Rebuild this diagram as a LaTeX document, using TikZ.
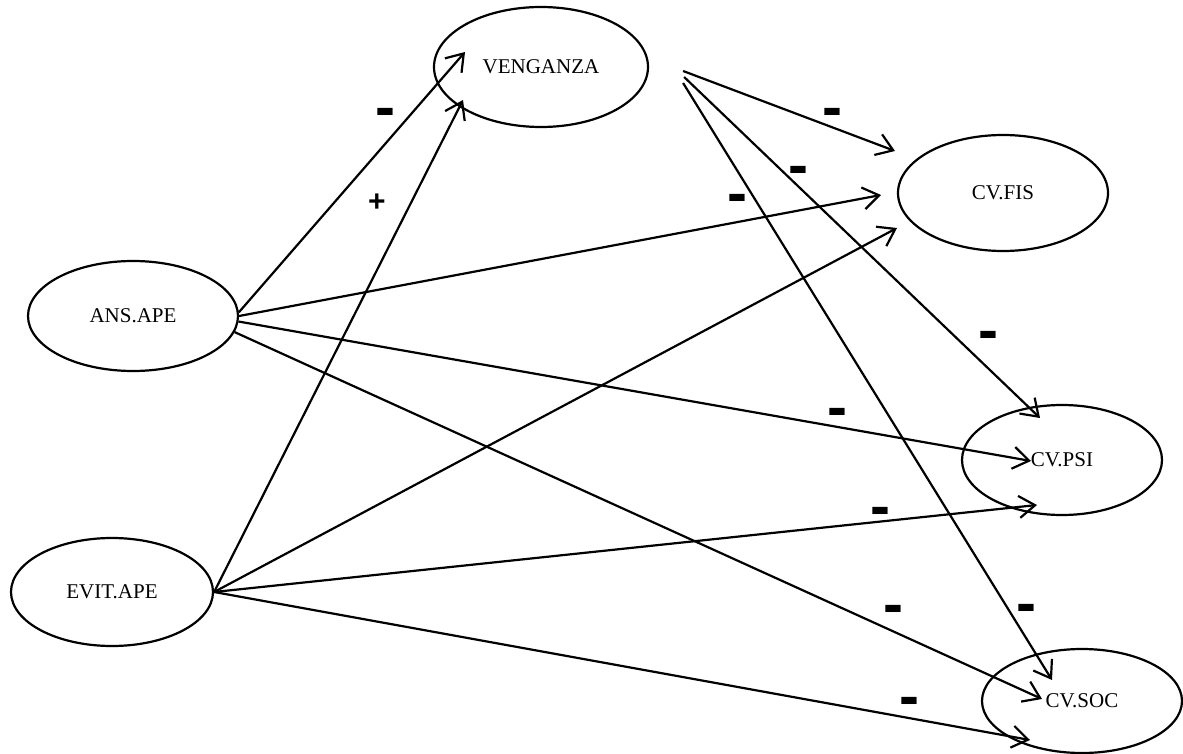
\documentclass[tikz,border=0pt]{standalone}
\usepackage{fontspec}
\setmainfont{Liberation Serif}
\setsansfont{Liberation Sans}
\usetikzlibrary{arrows.meta,shapes.geometric}

\begin{document}
\begin{tikzpicture}[
			x=0.5pt, y=-0.5pt,
			>={Straight Barb[length=8pt,width=11pt]},
			latent/.style={draw, ellipse, line width=1.1pt, inner sep=0pt,
				font={\fontsize{10.5}{12}\selectfont}},
			effect/.style={->, line width=1.1pt},
			sign/.style={inner sep=0pt, yshift=-4pt, font={\fontsize{30}{30}\sffamily\bfseries}},
			plus/.style={inner sep=0pt, font={\fontsize{15}{15}\sffamily\bfseries}}
	]
	\useasboundingbox (0,0) rectangle (1183,754);

	\node[latent, minimum width=107pt, minimum height=60pt] (ven) at (541,67) {VENGANZA};
	\node[latent, minimum width=105pt, minimum height=58pt] (fis) at (1003,193) {CV.FIS};
	\node[latent, minimum width=105pt, minimum height=55pt] (ans) at (133,316) {ANS.APE};
	\node[latent, minimum width=100pt, minimum height=55pt] (psi) at (1062,460) {CV.PSI};
	\node[latent, minimum width=101pt, minimum height=54pt] (evit) at (112,592) {EVIT.APE};
	\node[latent, minimum width=100pt, minimum height=52pt] (soc) at (1082,701) {CV.SOC};
% >> paths

	\draw[effect] (ans.2) -- ([shift={(-76,-15)}]ven.center);
	\draw[effect] (evit.east) -- ([shift={(-78,33)}]ven.center);
	\draw[effect] ([shift={(34,4)}]ven.east) -- ([shift={(-108,-42)}]fis.center);
	\draw[effect] ([shift={(35,10)}]ven.east) -- ([shift={(-22,-42)}]psi.center);
	\draw[effect] ([shift={(34,16)}]ven.east) -- ([shift={(-30,-21)}]soc.center);
	\draw[effect] (ans.east) -- ([shift={(-122,2)}]fis.center);
	\draw[effect] (ans.-3) -- ([shift={(-31,1)}]psi.center);
	\draw[effect] (ans.-9) -- ([shift={(-40,-2)}]soc.center);
	\draw[effect] (evit.east) -- ([shift={(-106,35)}]fis.center);
	\draw[effect] (evit.east) -- ([shift={(-25,45)}]psi.center);
	\draw[effect] (evit.east) -- ([shift={(-52,39)}]soc.center);
% >> signs

	\node[sign] (s1) at (385,110) {-};
	\node[plus] (s2) at (377,203) {+};
	\node[sign] (s3) at (832,110) {-};
	\node[sign] (s4) at (798,168) {-};
	\node[sign] (s5) at (737,196) {-};
	\node[sign] (s6) at (988,333) {-};
	\node[sign] (s7) at (837,410) {-};
	\node[sign] (s8) at (880,509) {-};
	\node[sign] (s9) at (893,607) {-};
	\node[sign] (s10) at (1026,606) {-};
	\node[sign] (s11) at (909,699) {-};
\end{tikzpicture}
\end{document}
